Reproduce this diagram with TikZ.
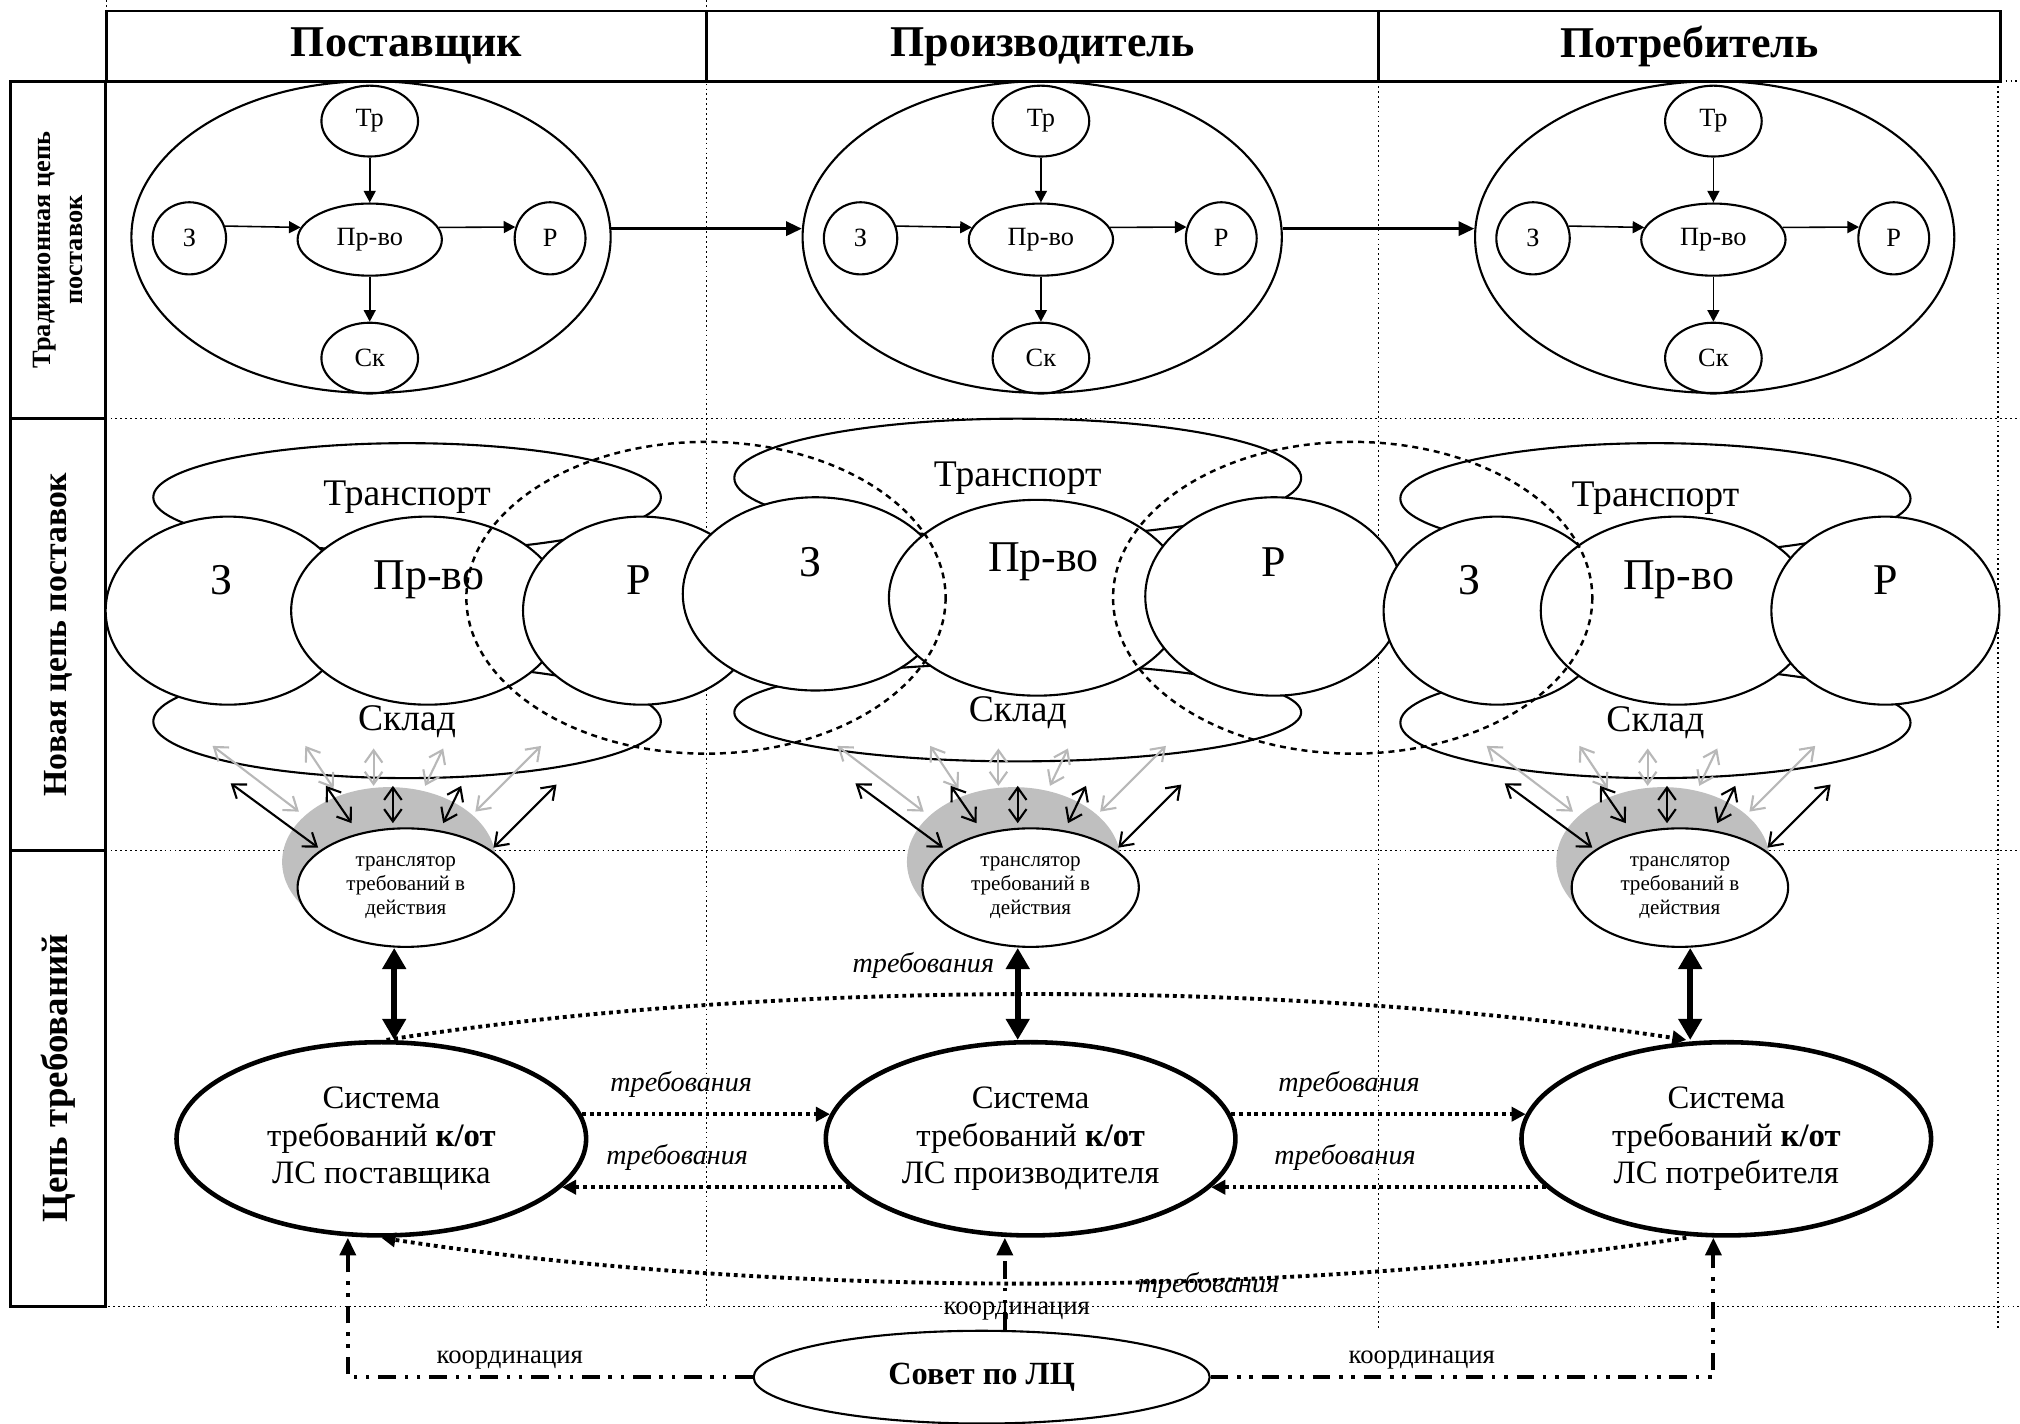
\documentclass[tikz,border=0pt]{standalone}
\usepackage{fontspec}
\setmainfont{Liberation Serif}
\usepackage{tikz}
\usetikzlibrary{arrows.meta,positioning,shapes.geometric,calc}

\newcommand{\pxu}{0.12883mm}

\begin{document}
\begin{tikzpicture}[
x=0.12883mm, y=-0.12883mm,
oval/.style 2 args={draw, ellipse, line width=0.6pt, inner sep=0pt, align=center, minimum width=2*#1*\pxu, minimum height=2*#2*\pxu},
blob/.style 2 args={oval={#1}{#2}, fill=white},
headcell/.style={draw, line width=0.8pt, minimum height=55*\pxu, font=\fontsize{12.5}{15}\selectfont\bfseries},
sidecell/.style={draw, line width=0.8pt, rotate=90, minimum height=74*\pxu, align=center},
gridline/.style={line width=0.4pt, dash pattern=on 0.5pt off 0.9pt},
trtext/.style={font=\fontsize{7.5}{9}\selectfont},
nbig/.style={font=\fontsize{12.5}{15}\selectfont},
nmid/.style={font=\fontsize{10.7}{12}\selectfont},
innerarrow/.style={-{Triangle[length=3.3pt,width=3.4pt]}, line width=0.45pt},
linkarrow/.style={-{Triangle[length=4.5pt,width=4pt]}, line width=0.9pt},
linkring/.style={line width=0.7pt, dash pattern=on 1.7pt off 1.4pt},
barbs/.style={{Straight Barb[length=3.5pt,width=5pt]}-{Straight Barb[length=3.5pt,width=5pt]}, line width=0.6pt},
faint/.style={barbs, draw=black!28},
halo/.style={fill=black!25},
transl/.style={blob={84}{46}, font=\fontsize{6}{6.8}\selectfont},
reqsys/.style={oval={159}{75}, line width=1.3pt, font=\fontsize{9.3}{10.6}\selectfont},
fat/.style={{Triangle[length=6pt,width=6.5pt]}-{Triangle[length=6pt,width=6.5pt]}, line width=1.8pt},
req/.style={-{Triangle[length=4pt,width=4pt]}, line width=1.1pt, dash pattern=on 1.1pt off 1.1pt},
reqtext/.style={font=\fontsize{8}{9}\selectfont\itshape},
coordarrow/.style={-{Triangle[length=5pt,width=4.5pt]}, line width=1.1pt, dash pattern=on 5pt off 2.5pt on 1pt off 2.5pt on 1pt off 2.5pt},
coordtext/.style={font=\fontsize{7.6}{9}\selectfont}
]
\useasboundingbox (0,0) rectangle (1568,1105);

% table grid
\draw[gridline] (82.5,0) -- (82.5,8.5);
\draw[gridline] (548.5,0) -- (548.5,1014);
\draw[gridline] (1070,63) -- (1070,1032);
\draw[gridline] (1551,63) -- (1551,1032);
\draw[gridline] (1553,63) -- (1568,63);
\draw[gridline] (82,325) -- (1568,325);
\draw[gridline] (82,660) -- (1568,660);
\draw[gridline] (65,1014) -- (1568,1014);

\node[headcell, minimum width=466*\pxu] (hsup) at (315.5,36) {Поставщик};
\node[headcell, minimum width=521.5*\pxu] (hprod) at (809.25,36) {Производитель};
\node[headcell, minimum width=483*\pxu] (hcons) at (1311.5,36) {Потребитель};

\node[sidecell, minimum width=262*\pxu, font=\fontsize{7.5}{9}\selectfont\bfseries] (strad) at (45,194) {Традиционная цепь\\поставок};
\node[sidecell, minimum width=335*\pxu, font=\fontsize{9.6}{12}\selectfont\bfseries] (snew) at (45,492.5) {Новая цепь поставок};
\node[sidecell, minimum width=354*\pxu, font=\fontsize{10.5}{12}\selectfont\bfseries] (sreq) at (45,837) {Цепь требований};

% traditional chain
\node[oval={186}{121}] (tbig1) at (288,184) {};
\node[oval={37.5}{27.5}, trtext] (ttr1) at (287,94) {Тр};
\node[oval={56}{28}, trtext] (tpv1) at (287,186) {Пр-во};
\node[oval={28.5}{28}, trtext] (tz1) at (147,185) {З};
\node[oval={27.5}{28}, trtext] (tr1) at (427,185) {Р};
\node[oval={37.5}{27.5}, trtext] (tsk1) at (287,278) {Ск};

\node[oval={186}{121}] (tbig2) at (809,184) {};
\node[oval={37.5}{27.5}, trtext] (ttr2) at (808,94) {Тр};
\node[oval={56}{28}, trtext] (tpv2) at (808,186) {Пр-во};
\node[oval={28.5}{28}, trtext] (tz2) at (668,185) {З};
\node[oval={27.5}{28}, trtext] (tr2) at (948,185) {Р};
\node[oval={37.5}{27.5}, trtext] (tsk2) at (808,278) {Ск};

\node[oval={186}{121}] (tbig3) at (1331,184) {};
\node[oval={37.5}{27.5}, trtext] (ttr3) at (1330,94) {Тр};
\node[oval={56}{28}, trtext] (tpv3) at (1330,186) {Пр-во};
\node[oval={28.5}{28}, trtext] (tz3) at (1190,185) {З};
\node[oval={27.5}{28}, trtext] (tr3) at (1470,185) {Р};
\node[oval={37.5}{27.5}, trtext] (tsk3) at (1330,278) {Ск};

\draw[innerarrow] (tz1.19) -- (tpv1.170);
\draw[innerarrow] (tpv1.10) -- (tr1.162);
\draw[innerarrow] (ttr1) -- (tpv1);
\draw[innerarrow] (tpv1) -- (tsk1);
\draw[innerarrow] (tz2.19) -- (tpv2.170);
\draw[innerarrow] (tpv2.10) -- (tr2.162);
\draw[innerarrow] (ttr2) -- (tpv2);
\draw[innerarrow] (tpv2) -- (tsk2);
\draw[innerarrow] (tz3.19) -- (tpv3.170);
\draw[innerarrow] (tpv3.10) -- (tr3.162);
\draw[innerarrow] (ttr3) -- (tpv3);
\draw[innerarrow] (tpv3) -- (tsk3);
\draw[linkarrow] (tbig1.2) -- (tbig2.178);
\draw[linkarrow] (tbig2.2) -- (tbig3.178);

% new chain
\node[blob={197}{42}, nmid] (ntr1) at (316,386) {Транспорт};
\node[blob={197}{44}, nmid] (nsk1) at (316,560) {Склад};
\node[blob={220}{46}, nmid] (ntr2) at (790,371) {Транспорт};
\node[blob={220}{38}, nmid] (nsk2) at (790,553) {Склад};
\node[blob={198}{43}, nmid] (ntr3) at (1285,387) {Транспорт};
\node[blob={198}{43}, nmid] (nsk3) at (1285,561) {Склад};

\node[blob={95}{73}, label={[nbig, shift={(-5,-24)}]center:З}] (nz1) at (177,474) {};
\node[blob={106}{73}, label={[nbig, shift={(1,-24)}]center:Пр-во}] (npv1) at (332,474) {};
\node[blob={92}{73}, label={[nbig, shift={(-2,-24)}]center:Р}] (nr1) at (498,474) {};
\node[blob={103}{75}, label={[nbig, shift={(-4,-25)}]center:З}] (nz2) at (633,461) {};
\node[blob={115}{76}, label={[nbig, shift={(5,-28)}]center:Пр-во}] (npv2) at (805,464) {};
\node[blob={100}{77}, label={[nbig, shift={(0,-27)}]center:Р}] (nr2) at (989,463) {};
\node[blob={88}{73}, label={[nbig, shift={(-21,-24)}]center:З}] (nz3) at (1162,474) {};
\node[blob={106}{73}, label={[nbig, shift={(1,-24)}]center:Пр-во}] (npv3) at (1302,474) {};
\node[blob={88.5}{73}, label={[nbig, shift={(0,-24)}]center:Р}] (nr3) at (1463.5,474) {};

\draw[linkring] (548,464) ellipse (186 and 121);
\draw[linkring] (1050,464) ellipse (186 and 121);

% translators
\fill[halo] (302,669) ellipse (83 and 58);
\fill[halo] (787,669) ellipse (83 and 58);
\fill[halo] (1291,669) ellipse (83 and 58);
\node[transl] (tl1) at (315,689) {транслятор\\требований в\\действия};
\node[transl] (tl2) at (800,689) {транслятор\\требований в\\действия};
\node[transl] (tl3) at (1304,689) {транслятор\\требований в\\действия};

\draw[faint] ($(tl1)+(-150,-110)$) -- ($(tl1)+(-83,-59)$);
\draw[faint] ($(tl1)+(-78,-110)$) -- ($(tl1)+(-56,-77)$);
\draw[faint] ($(tl1)+(-25,-108)$) -- ($(tl1)+(-25,-79)$);
\draw[faint] ($(tl1)+(29,-108)$) -- ($(tl1)+(15,-79)$);
\draw[faint] ($(tl1)+(105,-110)$) -- ($(tl1)+(54,-59)$);
\draw[barbs] ($(tl1)+(-136,-81)$) -- ($(tl1)+(-68,-31)$);
\draw[barbs] ($(tl1)+(-62,-79)$) -- ($(tl1)+(-42,-50)$);
\draw[barbs] ($(tl1)+(-10,-79)$) -- ($(tl1)+(-10,-50)$);
\draw[barbs] ($(tl1)+(43,-79)$) -- ($(tl1)+(29,-50)$);
\draw[barbs] ($(tl1)+(117,-80)$) -- ($(tl1)+(68,-31)$);

\draw[faint] ($(tl2)+(-150,-110)$) -- ($(tl2)+(-83,-59)$);
\draw[faint] ($(tl2)+(-78,-110)$) -- ($(tl2)+(-56,-77)$);
\draw[faint] ($(tl2)+(-25,-108)$) -- ($(tl2)+(-25,-79)$);
\draw[faint] ($(tl2)+(29,-108)$) -- ($(tl2)+(15,-79)$);
\draw[faint] ($(tl2)+(105,-110)$) -- ($(tl2)+(54,-59)$);
\draw[barbs] ($(tl2)+(-136,-81)$) -- ($(tl2)+(-68,-31)$);
\draw[barbs] ($(tl2)+(-62,-79)$) -- ($(tl2)+(-42,-50)$);
\draw[barbs] ($(tl2)+(-10,-79)$) -- ($(tl2)+(-10,-50)$);
\draw[barbs] ($(tl2)+(43,-79)$) -- ($(tl2)+(29,-50)$);
\draw[barbs] ($(tl2)+(117,-80)$) -- ($(tl2)+(68,-31)$);

\draw[faint] ($(tl3)+(-150,-110)$) -- ($(tl3)+(-83,-59)$);
\draw[faint] ($(tl3)+(-78,-110)$) -- ($(tl3)+(-56,-77)$);
\draw[faint] ($(tl3)+(-25,-108)$) -- ($(tl3)+(-25,-79)$);
\draw[faint] ($(tl3)+(29,-108)$) -- ($(tl3)+(15,-79)$);
\draw[faint] ($(tl3)+(105,-110)$) -- ($(tl3)+(54,-59)$);
\draw[barbs] ($(tl3)+(-136,-81)$) -- ($(tl3)+(-68,-31)$);
\draw[barbs] ($(tl3)+(-62,-79)$) -- ($(tl3)+(-42,-50)$);
\draw[barbs] ($(tl3)+(-10,-79)$) -- ($(tl3)+(-10,-50)$);
\draw[barbs] ($(tl3)+(43,-79)$) -- ($(tl3)+(29,-50)$);
\draw[barbs] ($(tl3)+(117,-80)$) -- ($(tl3)+(68,-31)$);

% requirement chain
\node[reqsys] (sys1) at (296,884) {Система\\требований \textbf{к/от}\\ЛС поставщика};
\node[reqsys] (sys2) at (800,884) {Система\\требований \textbf{к/от}\\ЛС производителя};
\node[reqsys] (sys3) at (1340,884) {Система\\требований \textbf{к/от}\\ЛС потребителя};
\node[oval={177}{36}, font=\fontsize{9.2}{11}\selectfont\bfseries] (sovet) at (762,1069) {Совет по ЛЦ};

\draw[fat] ([shift={(-9,0)}]tl1.south) -- ([shift={(10,0)}]sys1.north);
\draw[fat] ([shift={(-10,0)}]tl2.south) -- ([shift={(-10,0)}]sys2.north);
\draw[fat] ([shift={(8,0)}]tl3.south) -- ([shift={(-28,0)}]sys3.north);

\draw[req] (sys1.7) -- node[reqtext, pos=0.4, above=1pt] {требования} (sys2.173);
\draw[req] (sys2.195) -- node[reqtext, pos=0.6, above=1pt] {требования} (sys1.345);
\draw[req] (sys2.7) -- node[reqtext, pos=0.4, above=1pt] {требования} (sys3.173);
\draw[req] (sys3.195) -- node[reqtext, pos=0.6, above=1pt] {требования} (sys2.345);
\draw[req] ([shift={(4,0)}]sys1.north) .. controls (600,760) and (1000,760) .. node[reqtext, pos=0.42, above=1pt] {требования} ([shift={(-31,0)}]sys3.north);
\draw[req] ([shift={(-31,0)}]sys3.south) .. controls (1000,1008) and (600,1008) .. node[reqtext, pos=0.37, yshift=-0.5mm] {требования} (sys1.south);

\draw[coordarrow] (sovet.west) -| node[coordtext, pos=0.3, above=-1.5pt] {координация} ([shift={(-26,0)}]sys1.south);
\draw[coordarrow] (sovet.east) -| node[coordtext, pos=0.21, above=-1.5pt] {координация} ([shift={(-10,0)}]sys3.south);
\draw[coordarrow] ([shift={(18,0)}]sovet.north) -- node[coordtext, pos=0.2, xshift=1.2mm] {координация} ([shift={(-20,0)}]sys2.south);
\end{tikzpicture}
\end{document}
